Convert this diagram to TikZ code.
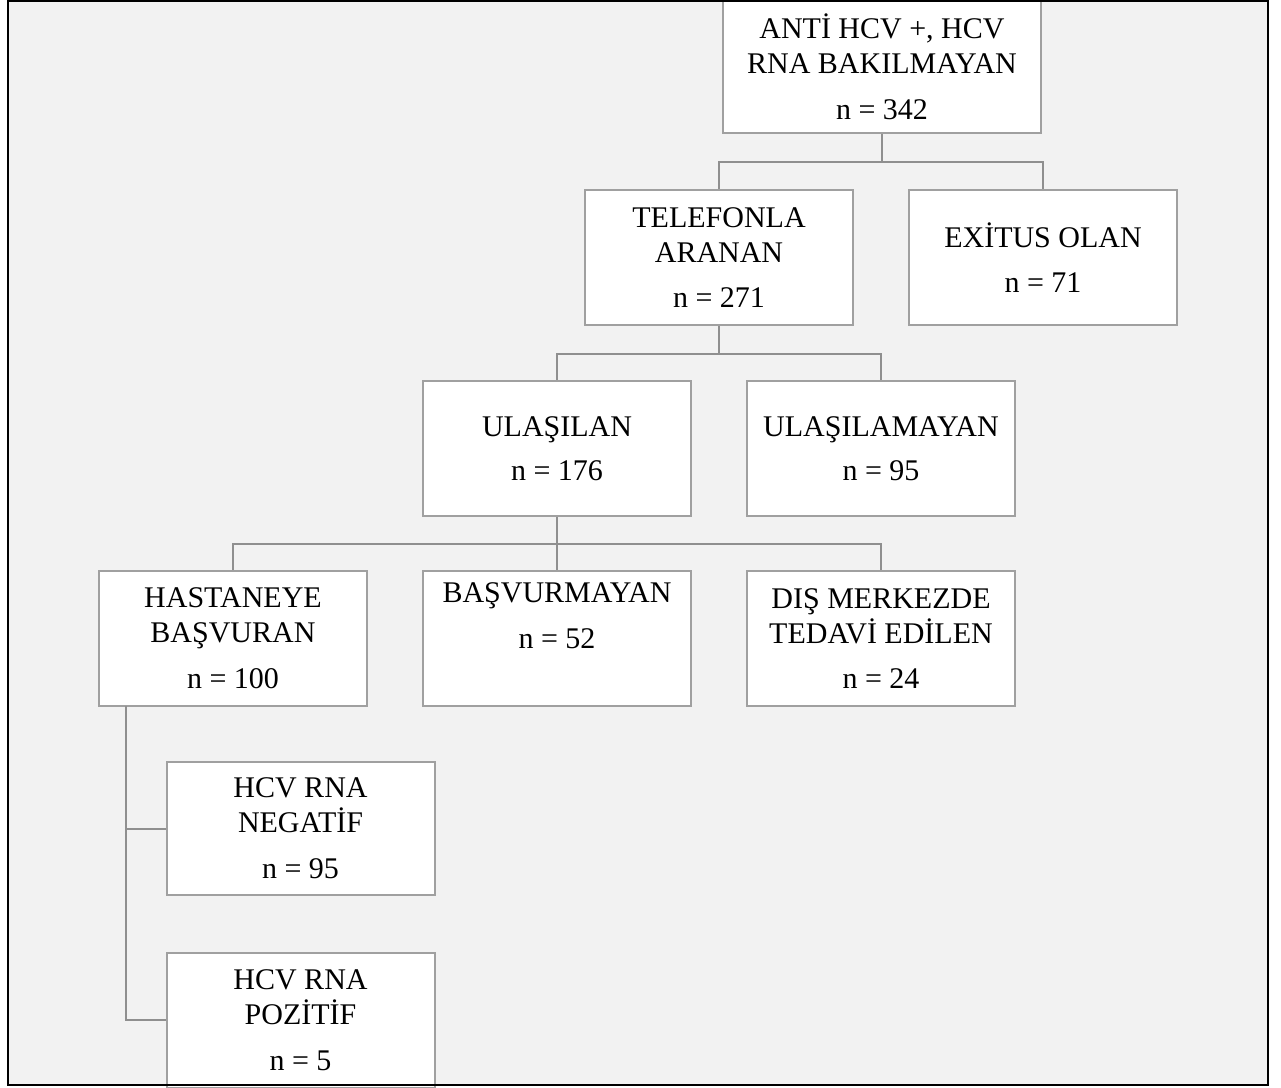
\documentclass[tikz,border=0pt]{standalone}
\usepackage{fontspec}
\setmainfont{Liberation Serif}
\definecolor{boxgray}{HTML}{A0A0A0}
\definecolor{linegray}{HTML}{8F8F8F}
\definecolor{panelgray}{HTML}{F2F2F2}
\begin{document}
\begin{tikzpicture}[x=0.75pt,y=-0.75pt,
    box/.style={draw=boxgray,line width=1.5pt,fill=white,inner sep=0pt,
      minimum width=201pt,minimum height=101.25pt,align=center,
      font=\fontsize{22.5}{26.25}\selectfont},
    link/.style={draw=linegray,line width=1.5pt}]
  \useasboundingbox (0,0) rectangle (1281,1088);
  \fill[panelgray] (8,1) rectangle (1268,1085);
  % Boxes
  \node[box,minimum width=238.5pt,minimum height=99pt] (top) at (882,67)
    {ANTİ HCV +, HCV\\RNA BAKILMAYAN\\[8pt]n = 342};
  \node[box] (tel) at (719,257.5) {TELEFONLA\\ARANAN\\[8pt]n = 271};
  \node[box] (exi) at (1043,257.5) {EXİTUS OLAN\\[8pt]n = 71};
  \node[box] (ula) at (557,448.5) {ULAŞILAN\\[7pt]n = 176};
  \node[box] (ulm) at (881,448.5) {ULAŞILAMAYAN\\[7pt]n = 95};
  \node[box] (has) at (233,638.5) {HASTANEYE\\BAŞVURAN\\[8pt]n = 100};
  \node[box] (bas) at (557,638.5) {BAŞVURMAYAN\\[8pt]n = 52\\[8pt]~};
  \node[box] (dis) at (881,638.5) {DIŞ MERKEZDE\\TEDAVİ EDİLEN\\[8pt]n = 24};
  \node[box,minimum height=99.75pt] (neg) at (300.5,828.5)
    {HCV RNA\\NEGATİF\\[8pt]n = 95};
  \node[box] (poz) at (300.5,1020) {HCV RNA\\POZİTİF\\[8pt]n = 5};
  % Links
  \draw[link] (top.south) -- ++(0,28) -| (tel.north);
  \draw[link] (top.south) -- ++(0,28) -| (exi.north);
  \draw[link] (tel.south) -- ++(0,28) -| (ula.north);
  \draw[link] (tel.south) -- ++(0,28) -| (ulm.north);
  \draw[link] (ula.south) -- ++(0,27) -| (has.north);
  \draw[link] (ula.south) -- ++(0,27) -| (bas.north);
  \draw[link] (ula.south) -- ++(0,27) -| (dis.north);
  \coordinate (trunk) at (126,706);
  \draw[link] (trunk) |- (neg.west);
  \draw[link] (trunk) |- (poz.west);
  % Frame
  \draw[line width=1.5pt] (8,1) rectangle (1268,1085);
\end{tikzpicture}
\end{document}
